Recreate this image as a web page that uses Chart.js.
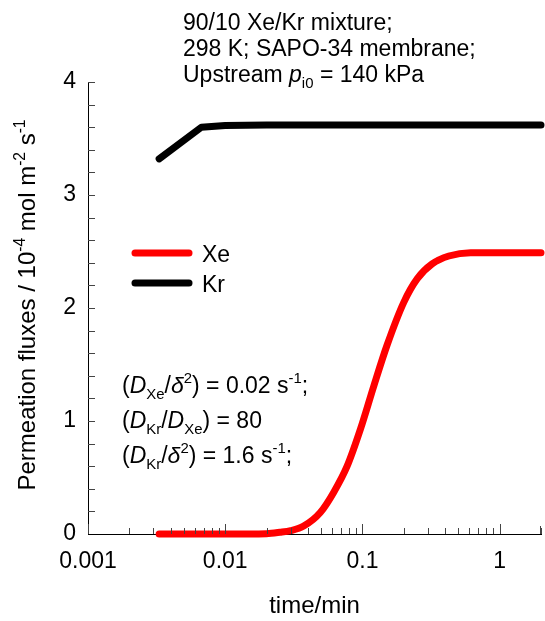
<!DOCTYPE html>
<html>
<head>
<meta charset="utf-8">
<script src="https://cdn.jsdelivr.net/npm/chart.js@4.4.0/dist/chart.umd.min.js"></script>
<style>
  html, body { margin: 0; padding: 0; background: #fff; }
</style>
</head>
<body>
<canvas id="fluxChart" width="545" height="621"></canvas>
<script>
// Transient permeation fluxes, 90/10 Xe/Kr through SAPO-34 (time in minutes)
const timeXe = [0.0033, 0.005, 0.01, 0.02, 0.025, 0.03, 0.0373, 0.0493, 0.0618, 0.0773, 0.0968, 0.121, 0.151, 0.2, 0.251, 0.322, 0.426, 0.614, 1, 2];
const fluxXe = [0, 0, 0, 0.003, 0.015, 0.03, 0.07, 0.19, 0.37, 0.60, 0.93, 1.31, 1.67, 2.05, 2.26, 2.39, 2.46, 2.49, 2.49, 2.49];

const timeKr = [0.0033, 0.0067, 0.01, 0.02, 0.1, 1, 2];
const fluxKr = [3.32, 3.6, 3.615, 3.62, 3.62, 3.62, 3.62];

const xTicks = [0.001, 0.01, 0.1, 1];
const yTicks = [0, 1, 2, 3, 4];

const FONT = '"Liberation Sans", Arial, Helvetica, sans-serif';

function pairs(xs, ys) {
    return xs.map((x, i) => ({ x: x, y: ys[i] }));
}

// text with italic / sub / sup pieces
function richWidth(ctx, parts, size) {
    let w = 0;
    parts.forEach(p => {
        const fs = p.s ? size * 0.65 : size;
        ctx.font = (p.i ? 'italic ' : '') + fs + 'px ' + FONT;
        w += ctx.measureText(p.t).width;
    });
    return w;
}
function drawRich(ctx, x, y, parts, size) {
    parts.forEach(p => {
        const fs = p.s ? size * 0.65 : size;
        ctx.font = (p.i ? 'italic ' : '') + fs + 'px ' + FONT;
        let dy = 0;
        if (p.s === 'sub') dy = size * 0.28;
        if (p.s === 'sup') dy = -size * 0.42;
        ctx.fillText(p.t, x, y + dy);
        x += ctx.measureText(p.t).width;
    });
}

const headerLines = [
    [{ t: '90/10 Xe/Kr mixture;' }],
    [{ t: '298 K; SAPO-34 membrane;' }],
    [{ t: 'Upstream ' }, { t: 'p', i: true }, { t: 'i0', s: 'sub' }, { t: ' = 140 kPa' }]
];

const noteLines = [
    [{ t: '(' }, { t: 'D', i: true }, { t: 'Xe', s: 'sub' }, { t: '/' }, { t: 'δ', i: true }, { t: '2', s: 'sup' }, { t: ') = 0.02 s' }, { t: '-1', s: 'sup' }, { t: ';' }],
    [{ t: '(' }, { t: 'D', i: true }, { t: 'Kr', s: 'sub' }, { t: '/' }, { t: 'D', i: true }, { t: 'Xe', s: 'sub' }, { t: ') = 80' }],
    [{ t: '(' }, { t: 'D', i: true }, { t: 'Kr', s: 'sub' }, { t: '/' }, { t: 'δ', i: true }, { t: '2', s: 'sup' }, { t: ') = 1.6 s' }, { t: '-1', s: 'sup' }, { t: ';' }]
];

const yTitle = [
    { t: 'Permeation fluxes / 10' }, { t: '-4', s: 'sup' }, { t: ' mol m' }, { t: '-2', s: 'sup' }, { t: ' s' }, { t: '-1', s: 'sup' }
];

// inward ticks, legend and text blocks
const extras = {
    id: 'extras',
    afterDraw(chart) {
        const ctx = chart.ctx;
        const xs = chart.scales.x, ys = chart.scales.y;
        const area = chart.chartArea;
        ctx.save();

        ctx.strokeStyle = '#444';
        ctx.lineWidth = 1;
        ctx.beginPath();
        for (let v = 0.2; v < 4.01; v += 0.2) {
            const py = Math.round(ys.getPixelForValue(v)) + 0.5;
            ctx.moveTo(area.left, py);
            ctx.lineTo(area.left + 7, py);
        }
        for (let d = 0.001; d < 2; d *= 10) {
            for (let k = 1; k <= 9; k++) {
                const v = d * k;
                if (v > 2.0001) break;
                const px = Math.round(xs.getPixelForValue(v)) + 0.5;
                const len = k === 1 ? 10 : 6;
                ctx.moveTo(px, area.bottom);
                ctx.lineTo(px, area.bottom - len);
            }
        }
        const pEnd = Math.round(xs.getPixelForValue(2)) - 0.5;
        ctx.moveTo(pEnd, area.bottom);
        ctx.lineTo(pEnd, area.bottom - 8);
        ctx.stroke();

        ctx.fillStyle = '#000';
        ctx.textBaseline = 'alphabetic';
        ctx.textAlign = 'left';

        headerLines.forEach((ln, i) => drawRich(ctx, 183, 30 + i * 26, ln, 23));
        noteLines.forEach((ln, i) => drawRich(ctx, 122, 393 + i * 35, ln, 23));

        // legend
        chart.data.datasets.forEach((ds, i) => {
            const ly = 253 + i * 30;
            ctx.strokeStyle = ds.borderColor;
            ctx.lineWidth = 7;
            ctx.lineCap = 'round';
            ctx.beginPath();
            ctx.moveTo(135, ly);
            ctx.lineTo(189, ly);
            ctx.stroke();
            ctx.font = '23px ' + FONT;
            ctx.fillStyle = '#000';
            ctx.fillText(ds.label, 202, ly + 9);
        });

        // rotated y title
        const w = richWidth(ctx, yTitle, 24);
        ctx.translate(35, 305);
        ctx.rotate(-Math.PI / 2);
        drawRich(ctx, -w / 2, 0, yTitle, 24);
        ctx.restore();
    }
};

const ctx = document.getElementById('fluxChart').getContext('2d');
const fluxChart = new Chart(ctx, {
    type: 'line',
    data: {
        datasets: [{
            label: 'Xe',
            data: pairs(timeXe, fluxXe),
            borderColor: '#ff0000',
            borderWidth: 7,
            borderCapStyle: 'round',
            borderJoinStyle: 'round',
            pointRadius: 0,
            cubicInterpolationMode: 'monotone',
            clip: false,
            fill: false
        }, {
            label: 'Kr',
            data: pairs(timeKr, fluxKr),
            borderColor: '#000000',
            borderWidth: 7,
            borderCapStyle: 'round',
            borderJoinStyle: 'round',
            pointRadius: 0,
            tension: 0,
            clip: false,
            fill: false
        }]
    },
    options: {
        responsive: false,
        animation: false,
        devicePixelRatio: 1,
        layout: { padding: { top: 82, right: 4, left: 0, bottom: 0 } },
        scales: {
            x: {
                type: 'logarithmic',
                min: 0.001,
                max: 2,
                grid: { display: false, drawTicks: false },
                border: { display: true, color: '#000', width: 1 },
                afterBuildTicks: s => { s.ticks = xTicks.map(v => ({ value: v })); },
                afterFit: s => { s.height = 87; },
                ticks: {
                    color: '#000',
                    font: { family: FONT, size: 23 },
                    padding: 14,
                    maxRotation: 0,
                    callback: v => String(v)
                },
                title: {
                    display: true,
                    text: 'time/min',
                    color: '#000',
                    font: { family: FONT, size: 24 },
                    padding: { top: 0, bottom: 0 }
                }
            },
            y: {
                min: 0,
                max: 4,
                grid: { display: false, drawTicks: false },
                border: { display: true, color: '#000', width: 1 },
                afterBuildTicks: s => { s.ticks = yTicks.map(v => ({ value: v })); },
                afterFit: s => { s.width = 88; },
                ticks: {
                    color: '#000',
                    font: { family: FONT, size: 23 },
                    padding: 12
                }
            }
        },
        plugins: {
            legend: { display: false },
            tooltip: { enabled: false }
        }
    },
    plugins: [extras]
});
</script>
</body>
</html>
